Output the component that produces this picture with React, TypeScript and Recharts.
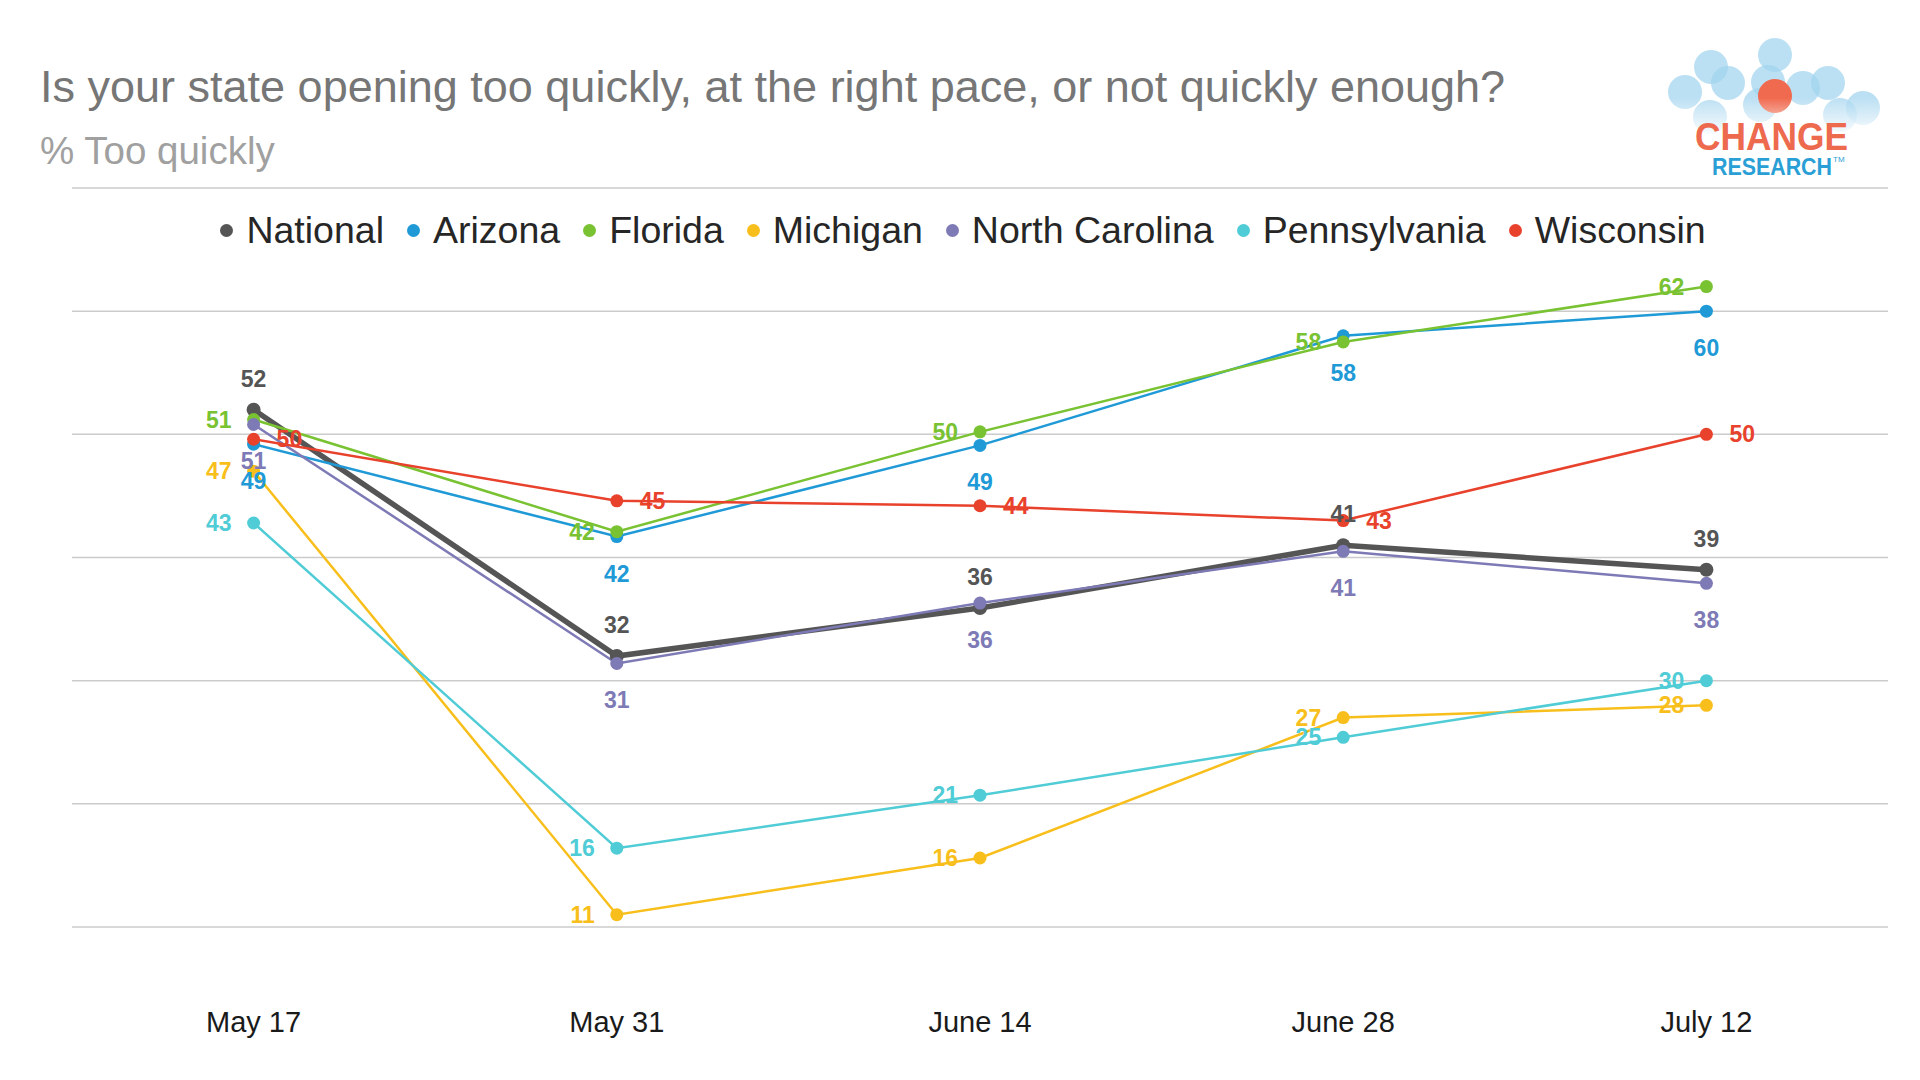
import React from 'react';
import { LineChart, Line, XAxis, YAxis, CartesianGrid, LabelList } from 'recharts';

// ---- Data ----
const categories = ['May 17', 'May 31', 'June 14', 'June 28', 'July 12'];
const national = [52, 32, 35.9, 41, 39];
const arizona = [49.2, 41.7, 49.1, 58, 60];
const florida = [51.2, 42.1, 50.2, 57.5, 62];
const michigan = [47, 11, 15.6, 27, 28];
const northCarolina = [50.8, 31.4, 36.3, 40.5, 37.9];
const pennsylvania = [42.8, 16.4, 20.7, 25.4, 30];
const wisconsin = [49.6, 44.6, 44.2, 43, 50];
const yTicks = [10, 20, 30, 40, 50, 60, 70];

const seriesNames = ['National', 'Arizona', 'Florida', 'Michigan', 'North Carolina', 'Pennsylvania', 'Wisconsin'];
const seriesValues = [national, arizona, florida, michigan, northCarolina, pennsylvania, wisconsin];

// ---- Presentation ----
const FONT = '"Liberation Sans", Arial, Helvetica, sans-serif';
const seriesStyle = [
  { color: '#555555', width: 5.5, r: 7, pos: 'top' },
  { color: '#1f9ad6', width: 2.5, r: 6.5, pos: 'bottom' },
  { color: '#79c232', width: 2.5, r: 6.5, pos: 'left' },
  { color: '#f8bf1c', width: 2.5, r: 6.5, pos: 'left' },
  { color: '#7d7ab6', width: 2.5, r: 6.5, pos: 'bottom' },
  { color: '#50ccd6', width: 2.5, r: 6.5, pos: 'left' },
  { color: '#e8412c', width: 2.5, r: 6.5, pos: 'right' },
];

const keys = seriesNames.map((_, i) => 's' + i);
const data = categories.map((c, i) => {
  const row: any = { category: c };
  seriesValues.forEach((vals, s) => {
    row[keys[s]] = vals[i];
  });
  return row;
});

const makeLabel = (color: string, pos: string) => (props: any) => {
  const x = props.x ?? props.viewBox?.x;
  const y = props.y ?? props.viewBox?.y;
  if (x == null || y == null) return null;
  let tx = x;
  let ty = y;
  let anchor: any = 'middle';
  if (pos === 'top') ty = y - 31;
  else if (pos === 'bottom') ty = y + 37;
  else if (pos === 'left') {
    tx = x - 22;
    anchor = 'end';
  } else {
    tx = x + 23;
    anchor = 'start';
  }
  return (
    <text
      x={tx}
      y={ty}
      textAnchor={anchor}
      dominantBaseline="central"
      fill={color}
      fontSize={23}
      fontWeight="bold"
      fontFamily={FONT}
    >
      {Math.round(Number(props.value))}
    </text>
  );
};

const XTick = (props: any) => {
  const { x, y, payload } = props;
  return (
    <text x={x} y={y} dy={97} textAnchor="middle" fill="#1a1a1a" fontSize={29} fontFamily={FONT}>
      {payload.value}
    </text>
  );
};

const Logo = () => {
  const blue = [
    [45, 72], [71, 47], [88, 63], [135, 35], [128, 62], [163, 68], [188, 63], [223, 88], [70, 97], [120, 85], [200, 95],
  ];
  return (
    <svg width={280} height={180} style={{ position: 'absolute', left: 1640, top: 20 }}>
      <defs>
        <linearGradient id="logoFade" x1="0" y1="0" x2="0" y2="1">
          <stop offset="0" stopColor="#ffffff" stopOpacity="0" />
          <stop offset="1" stopColor="#ffffff" stopOpacity="1" />
        </linearGradient>
      </defs>
      {blue.map(([cx, cy], i) => (
        <circle key={i} cx={cx} cy={cy} r={17} fill="#9fd3ee" fillOpacity={0.7} />
      ))}
      <circle cx={135} cy={76} r={17} fill="#f06a4f" />
      <rect x={0} y={78} width={280} height={40} fill="url(#logoFade)" />
      <rect x={0} y={118} width={280} height={62} fill="#ffffff" />
      <text x={55} y={130} textLength={153} lengthAdjust="spacingAndGlyphs" fontSize={39} fontWeight="bold" fill="#ee6a4e" fontFamily={FONT}>
        CHANGE
      </text>
      <text x={72} y={155} textLength={120} lengthAdjust="spacingAndGlyphs" fontSize={23} fontWeight="bold" fill="#2a9fd6" fontFamily={FONT}>
        RESEARCH
      </text>
      <text x={193} y={142} fontSize={8} fill="#2a9fd6" fontFamily={FONT}>
        TM
      </text>
    </svg>
  );
};

const Legend2 = () => (
  <div
    style={{
      position: 'absolute',
      left: 0,
      top: 208,
      width: 1926,
      height: 44,
      display: 'flex',
      justifyContent: 'center',
      alignItems: 'center',
      fontFamily: FONT,
      fontSize: 37.5,
      color: '#262626',
      whiteSpace: 'nowrap',
    }}
  >
    {seriesNames.map((n, i) => (
      <div key={n} style={{ display: 'flex', alignItems: 'center', marginRight: i < seriesNames.length - 1 ? 23 : 0 }}>
        <span
          style={{
            display: 'inline-block',
            width: 13,
            height: 13,
            borderRadius: '50%',
            background: seriesStyle[i].color,
            marginRight: 13,
          }}
        />
        <span>{n}</span>
      </div>
    ))}
  </div>
);

export default function App() {
  return (
    <div style={{ position: 'absolute', left: 0, top: 0, width: 1920, height: 1080, background: '#ffffff', overflow: 'hidden' }}>
      <svg width={1920} height={200} style={{ position: 'absolute', left: 0, top: 0 }}>
        <text x={40} y={102} fontSize={45} fill="#767676" fontFamily={FONT}>
          Is your state opening too quickly, at the right pace, or not quickly enough?
        </text>
        <text x={40} y={164} fontSize={38.5} fill="#a0a0a0" fontFamily={FONT}>
          % Too quickly
        </text>
      </svg>
      <Logo />
      <div style={{ position: 'absolute', left: 0, top: 0 }}>
        <LineChart width={1920} height={1080} data={data} margin={{ top: 188, right: 32, left: 72, bottom: 0 }}>
          <CartesianGrid vertical={false} stroke="#cbcbcb" strokeWidth={1.5} />
          <YAxis hide width={0} domain={[10, 70]} ticks={yTicks} type="number" />
          <XAxis
            dataKey="category"
            height={153}
            axisLine={false}
            tickLine={false}
            interval={0}
            padding={{ left: 181.6, right: 181.6 }}
            tick={<XTick />}
          />
          {keys.map((k, i) => (
            <Line
              key={k}
              dataKey={k}
              name={seriesNames[i]}
              type="linear"
              stroke={seriesStyle[i].color}
              strokeWidth={seriesStyle[i].width}
              dot={{ r: seriesStyle[i].r, fill: seriesStyle[i].color, stroke: seriesStyle[i].color, strokeWidth: 0 }}
              activeDot={false}
              isAnimationActive={false}
            >
              <LabelList dataKey={k} content={makeLabel(seriesStyle[i].color, seriesStyle[i].pos)} />
            </Line>
          ))}
        </LineChart>
      </div>
      <Legend2 />
    </div>
  );
}
